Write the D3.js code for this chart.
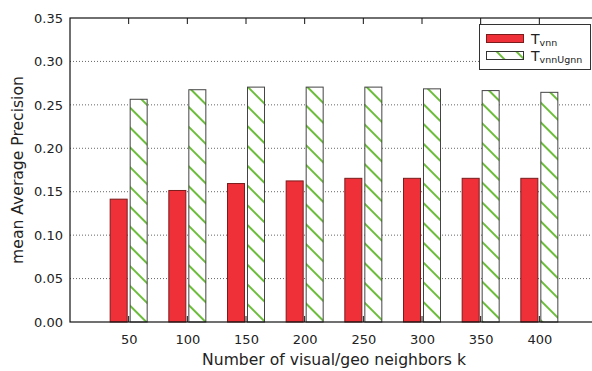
<!DOCTYPE html>
<html>
<head>
<meta charset="utf-8">
<script src="https://cdn.jsdelivr.net/npm/d3@7"></script>
<style>
  body { margin: 0; background: #fff; }
  svg { display: block; font-family: "DejaVu Sans", Verdana, sans-serif; }
</style>
</head>
<body>
<div id="chart"></div>
<script>
// données
const kValues = [50, 100, 150, 200, 250, 300, 350, 400];
const vnn = [0.142, 0.152, 0.160, 0.163, 0.166, 0.166, 0.166, 0.166];
const vnnUgnn = [0.257, 0.268, 0.271, 0.271, 0.271, 0.269, 0.267, 0.265];
const yTicks = [0, 0.05, 0.10, 0.15, 0.20, 0.25, 0.30, 0.35];

const W = 592, H = 371;
const margin = { top: 18, right: -6, bottom: 49, left: 70 };
const width = W - margin.left - margin.right;
const height = H - margin.top - margin.bottom;

const svg = d3.select("#chart").append("svg")
    .attr("width", W)
    .attr("height", H);

// motif hachuré vert
const defs = svg.append("defs");
const pat = defs.append("pattern")
    .attr("id", "hatch")
    .attr("patternUnits", "userSpaceOnUse")
    .attr("width", 14)
    .attr("height", 14)
    .attr("patternTransform", "rotate(-45)");
pat.append("rect").attr("width", 14).attr("height", 14).attr("fill", "#fff");
pat.append("line")
    .attr("x1", 7).attr("y1", 0).attr("x2", 7).attr("y2", 14)
    .attr("stroke", "#6dbd3c")
    .attr("stroke-width", 2);

const g = svg.append("g")
    .attr("transform", `translate(${margin.left},${margin.top})`);

const x = d3.scaleLinear().domain([0, 450]).range([0, width]);
const y = d3.scaleLinear().domain([0, 0.35]).range([height, 0]);

// grille pointillée
g.selectAll(".grid")
    .data(yTicks.slice(1, -1))
    .enter().append("line")
    .attr("x1", 0).attr("x2", width)
    .attr("y1", d => y(d)).attr("y2", d => y(d))
    .attr("stroke", "#666")
    .attr("stroke-width", 1)
    .attr("stroke-dasharray", "1,2");

const barW = 18, gap = 1;

// barres T_vnn
g.selectAll(".bar-vnn")
    .data(kValues)
    .enter().append("rect")
    .attr("x", (d) => x(d) - gap - barW + 0.5)
    .attr("y", (d, i) => y(vnn[i]) + 0.5)
    .attr("width", barW - 1)
    .attr("height", (d, i) => height - y(vnn[i]) - 0.5)
    .attr("fill", "#ef3039")
    .attr("stroke", "#7a1c1c")
    .attr("stroke-width", 1);

// barres T_vnnUgnn
g.selectAll(".bar-ugnn")
    .data(kValues)
    .enter().append("rect")
    .attr("x", (d) => x(d) + gap + 0.5)
    .attr("y", (d, i) => y(vnnUgnn[i]) + 0.5)
    .attr("width", barW - 1)
    .attr("height", (d, i) => height - y(vnnUgnn[i]) - 0.5)
    .attr("fill", "url(#hatch)")
    .attr("stroke", "#444")
    .attr("stroke-width", 1);

// axe Y
const yAxis = g.append("g")
    .call(d3.axisLeft(y).tickValues(yTicks).tickFormat(d3.format(".2f")).tickSize(0).tickPadding(7));
yAxis.select(".domain").remove();
yAxis.selectAll("text").attr("font-size", 13).attr("fill", "#222").style("font-family", "DejaVu Sans, sans-serif");

// axe X
const xAxis = g.append("g")
    .attr("transform", `translate(0,${height})`)
    .call(d3.axisBottom(x).tickValues(kValues).tickSize(0).tickPadding(13));
xAxis.select(".domain").remove();
xAxis.selectAll("text").attr("font-size", 13).attr("fill", "#222").style("font-family", "DejaVu Sans, sans-serif");

// petits ticks internes en bas et en haut
g.selectAll(".tick-bot")
    .data(kValues)
    .enter().append("line")
    .attr("x1", d => x(d)).attr("x2", d => x(d))
    .attr("y1", height).attr("y2", height - 6)
    .attr("stroke", "#111");
g.selectAll(".tick-top")
    .data(kValues)
    .enter().append("line")
    .attr("x1", d => x(d)).attr("x2", d => x(d))
    .attr("y1", 0).attr("y2", 6)
    .attr("stroke", "#111");

// cadre
g.append("rect")
    .attr("x", 0).attr("y", 0)
    .attr("width", width).attr("height", height)
    .attr("fill", "none")
    .attr("stroke", "#111")
    .attr("stroke-width", 1.2);

// titres des axes
svg.append("text")
    .attr("x", margin.left + width / 2)
    .attr("y", 365)
    .attr("text-anchor", "middle")
    .attr("font-size", 15.6)
    .attr("fill", "#222")
    .text("Number of visual/geo neighbors k");

svg.append("text")
    .attr("transform", `translate(23,${margin.top + height / 2}) rotate(-90)`)
    .attr("text-anchor", "middle")
    .attr("font-size", 15.6)
    .attr("fill", "#222")
    .text("mean Average Precision");

// légende
const legend = svg.append("g").attr("transform", "translate(479,24)");
legend.append("rect")
    .attr("x", 0.5).attr("y", 0.5)
    .attr("width", 111).attr("height", 45)
    .attr("fill", "#fff")
    .attr("stroke", "#333");

const items = [
    { fill: "#ef3039", stroke: "#7a1c1c", sub: "vnn" },
    { fill: "url(#hatch)", stroke: "#333", sub: "vnnUgnn" }
];
items.forEach((it, i) => {
    const yy = 10 + i * 17;
    legend.append("rect")
        .attr("x", 7.5).attr("y", yy + 0.5)
        .attr("width", 37).attr("height", 8)
        .attr("fill", it.fill)
        .attr("stroke", it.stroke);
    const t = legend.append("text")
        .attr("x", 52).attr("y", yy + 10)
        .attr("font-size", 14)
        .attr("fill", "#222");
    t.append("tspan").text("T");
    t.append("tspan").attr("font-size", 9.5).attr("dy", 2).text(it.sub);
});
</script>
</body>
</html>
